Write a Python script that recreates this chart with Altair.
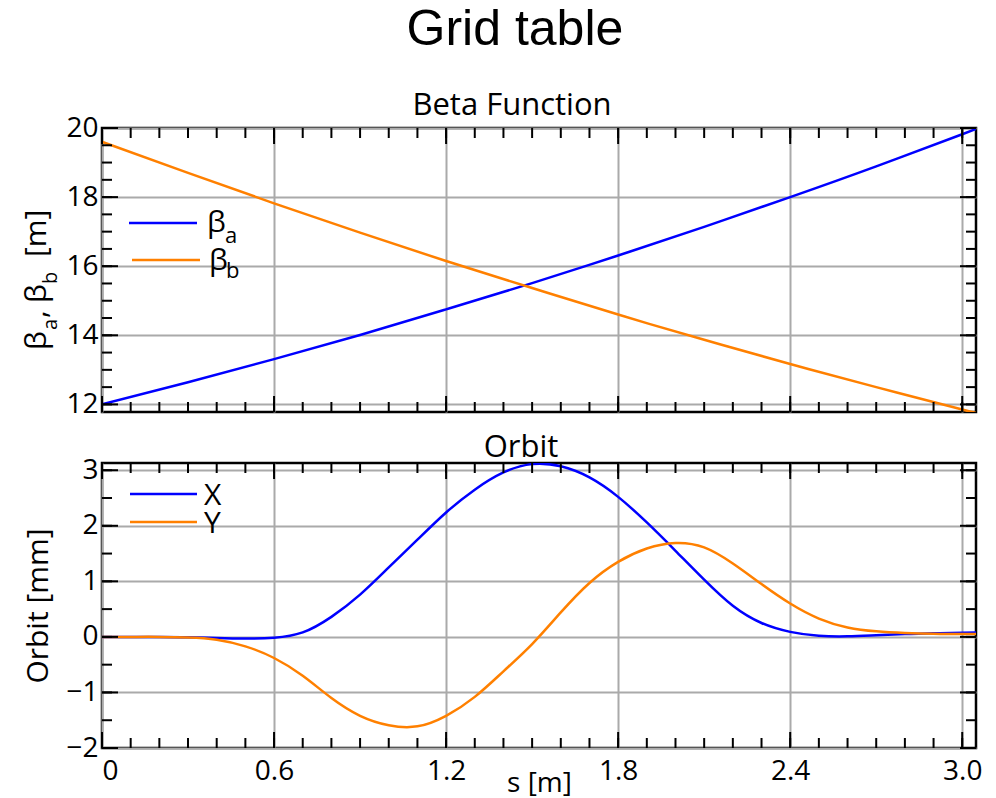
import altair as alt
import pandas as pd

# ---------------- data ----------------
s_beta = [0.0, 0.3, 0.6, 0.9, 1.2, 1.5, 1.8, 2.1, 2.4, 2.7, 3.0, 3.048]
beta_a = [12.00, 12.64, 13.31, 14.01, 14.75, 15.51, 16.31, 17.14, 18.00, 18.89, 19.82, 19.97]
beta_b = [19.60, 18.70, 17.82, 16.97, 16.15, 15.37, 14.60, 13.87, 13.17, 12.50, 11.85, 11.76]

s_orbit = [0.0, 0.1, 0.2, 0.3, 0.4, 0.5, 0.6, 0.7, 0.8, 0.9, 1.0, 1.1, 1.2,
           1.3, 1.4, 1.5, 1.6, 1.7, 1.8, 1.9, 2.0, 2.1, 2.2, 2.3, 2.4, 2.5, 2.6, 2.7,
           2.8, 2.9, 3.0, 3.048]
orbit_x = [0.0, 0.0, 0.0, -0.005, -0.02, -0.03, -0.015, 0.08, 0.36, 0.76,
           1.25, 1.75, 2.24, 2.65, 2.96, 3.11, 3.07, 2.87, 2.52, 2.06, 1.55, 1.03, 0.56,
           0.25, 0.09, 0.02, 0.01, 0.03, 0.05, 0.065, 0.075, 0.08]
orbit_y = [0.0, 0.0, 0.0, -0.01, -0.05, -0.17, -0.38, -0.70, -1.10, -1.42,
           -1.59, -1.61, -1.42, -1.08, -0.62, -0.13, 0.44, 0.97, 1.35, 1.59, 1.69, 1.61,
           1.32, 0.95, 0.60, 0.33, 0.17, 0.10, 0.07, 0.055, 0.05, 0.05]

x_major = [0.0, 0.6, 1.2, 1.8, 2.4, 3.0]
x_minor = [0.0, 0.1, 0.2, 0.3, 0.4, 0.5, 0.6, 0.7, 0.8, 0.9, 1.0, 1.1, 1.2, 1.3, 1.4, 1.5,
           1.6, 1.7, 1.8, 1.9, 2.0, 2.1, 2.2, 2.3, 2.4, 2.5, 2.6, 2.7, 2.8, 2.9, 3.0]
beta_major = [12, 14, 16, 18, 20]
beta_minor = [12, 12.5, 13, 13.5, 14, 14.5, 15, 15.5, 16, 16.5, 17, 17.5, 18, 18.5,
              19, 19.5, 20]
orbit_major = [-2, -1, 0, 1, 2, 3]
orbit_minor = [-2, -1.5, -1, -0.5, 0, 0.5, 1, 1.5, 2, 2.5, 3]

x_domain = [0, 3.048]
beta_domain = [11.78, 20]
orbit_domain = [-2, 3.13]

# ---------------- style ----------------
FONT = "Open Sans"
BLUE = "#0000ff"
ORANGE = "#ff8000"
GRID = "#aaaaaa"
W, H1, H2 = 874, 284, 285
MINOR, MAJOR = 10, 16
INTERP = "natural"

xs = alt.Scale(domain=x_domain, nice=False, zero=False)
ys1 = alt.Scale(domain=beta_domain, nice=False, zero=False)
ys2 = alt.Scale(domain=orbit_domain, nice=False, zero=False)

lab = dict(labelFont=FONT, labelFontSize=28, labelColor="black", labelFontWeight="normal")
ax_common = dict(grid=True, gridColor=GRID, gridWidth=2, ticks=False, domain=False)

x_axis_top = alt.Axis(values=x_major, labels=False, **ax_common)
x_axis_bot = alt.Axis(values=x_major, labelPadding=9,
                      labelExpr="datum.value == 0 ? '0' : format(datum.value, '.1f')",
                      titleFont=FONT, titleFontSize=28, titleFontWeight="normal",
                      titleColor="black", titlePadding=-16, **lab, **ax_common)
y_axis_top = alt.Axis(values=beta_major, labelPadding=4, **lab, **ax_common)
y_axis_bot = alt.Axis(values=orbit_major, labelPadding=4,
                      titleFont=FONT, titleFontSize=30, titleFontWeight="normal",
                      titleColor="black", titlePadding=12, **lab, **ax_common)


def one():
    return alt.Data(values=[{}])


def txt(t, x, y, size, angle=None, align="left"):
    kw = dict(text=t, font=FONT, fontSize=size, color="black", align=align,
              baseline="alphabetic")
    if angle is not None:
        kw["angle"] = angle
    return alt.Chart(one()).mark_text(**kw).encode(x=alt.value(x), y=alt.value(y))


def seg(x1, x2, y, color):
    return alt.Chart(one()).mark_rule(color=color, strokeWidth=2.5).encode(
        x=alt.value(x1), x2=alt.value(x2), y=alt.value(y))


def tick_layers(xaxis, xtitle, ys, yaxis, ytitle, ymin, ymaj, H):
    layers = []
    for vals, L in ((x_minor, MINOR), (x_major, MAJOR)):
        base = alt.Chart(pd.DataFrame({"v": vals})).mark_rule(color="black", strokeWidth=2)
        xe = alt.X("v:Q", scale=xs, axis=xaxis, title=xtitle)
        layers.append(base.encode(x=xe, y=alt.value(H), y2=alt.value(H - L)))
        layers.append(base.encode(x=xe, y=alt.value(0), y2=alt.value(L)))
    for vals, L in ((ymin, MINOR), (ymaj, MAJOR)):
        base = alt.Chart(pd.DataFrame({"v": vals})).mark_rule(color="black", strokeWidth=2)
        ye = alt.Y("v:Q", scale=ys, axis=yaxis, title=ytitle)
        layers.append(base.encode(y=ye, x=alt.value(0), x2=alt.value(L)))
        layers.append(base.encode(y=ye, x=alt.value(W), x2=alt.value(W - L)))
    return layers


# ---------------- top panel: beta functions ----------------
beta_df = pd.DataFrame({"s": s_beta, "a": beta_a, "b": beta_b})
bx = alt.X("s:Q", scale=xs, axis=x_axis_top, title=None)
line_a = alt.Chart(beta_df).mark_line(color=BLUE, strokeWidth=2.5, clip=True,
                                      interpolate=INTERP).encode(
    x=bx, y=alt.Y("a:Q", scale=ys1, axis=y_axis_top, title=None))
line_b = alt.Chart(beta_df).mark_line(color=ORANGE, strokeWidth=2.5, clip=True,
                                      interpolate=INTERP).encode(
    x=bx, y=alt.Y("b:Q", scale=ys1, axis=y_axis_top, title=None))

top_annot = [
    # panel title
    txt("Beta Function", W / 2 - 27, -13, 31, align="center"),
    # legend
    seg(27, 95, 95, BLUE), seg(30, 98, 132, ORANGE),
    txt("β", 105, 104, 30), txt("a", 123, 115, 22),
    txt("β", 107, 142, 30), txt("b", 124, 150, 22),
    # y-axis title with subscripts (rotated)
    txt("β", -56, 222, 30, 270), txt("a", -45, 202, 20, 270),
    txt(",", -56, 190, 30, 270),
    txt("β", -56, 175, 30, 270), txt("b", -45, 156, 20, 270),
    txt("[m]", -56, 129, 30, 270),
]

top = alt.layer(line_a, line_b,
                *tick_layers(x_axis_top, None, ys1, y_axis_top, None, beta_minor, beta_major, H1),
                *top_annot).properties(width=W, height=H1)

# ---------------- bottom panel: orbit ----------------
orbit_df = pd.DataFrame({"s": s_orbit, "x": orbit_x, "y": orbit_y})
ox = alt.X("s:Q", scale=xs, axis=x_axis_bot, title="s [m]")
line_x = alt.Chart(orbit_df).mark_line(color=BLUE, strokeWidth=2.5, clip=True,
                                       interpolate=INTERP).encode(
    x=ox, y=alt.Y("x:Q", scale=ys2, axis=y_axis_bot, title="Orbit [mm]"))
line_y = alt.Chart(orbit_df).mark_line(color=ORANGE, strokeWidth=2.5, clip=True,
                                       interpolate=INTERP).encode(
    x=ox, y=alt.Y("y:Q", scale=ys2, axis=y_axis_bot, title="Orbit [mm]"))

bot_annot = [
    txt("Orbit", W / 2 - 18, -6, 31, align="center"),
    seg(28, 95, 31, BLUE), seg(28, 95, 59, ORANGE),
    txt("X", 102, 42, 30), txt("Y", 102, 70, 30),
]

bottom = alt.layer(line_x, line_y,
                   *tick_layers(x_axis_bot, "s [m]", ys2, y_axis_bot, "Orbit [mm]",
                                orbit_minor, orbit_major, H2),
                   *bot_annot).properties(width=W, height=H2)

chart = alt.vconcat(top, bottom, spacing=10).properties(
    title=alt.TitleParams("Grid table", font="Liberation Sans", fontSize=50,
                          fontWeight="normal", color="black", anchor="middle",
                          baseline="alphabetic", offset=-6, dx=13),
    padding={"left": 20, "top": 4, "right": 0, "bottom": 0},
    background="white",
).configure_view(stroke="black", strokeWidth=2.5)

chart.save("out.html", embed_options={"renderer": "svg", "actions": False})
